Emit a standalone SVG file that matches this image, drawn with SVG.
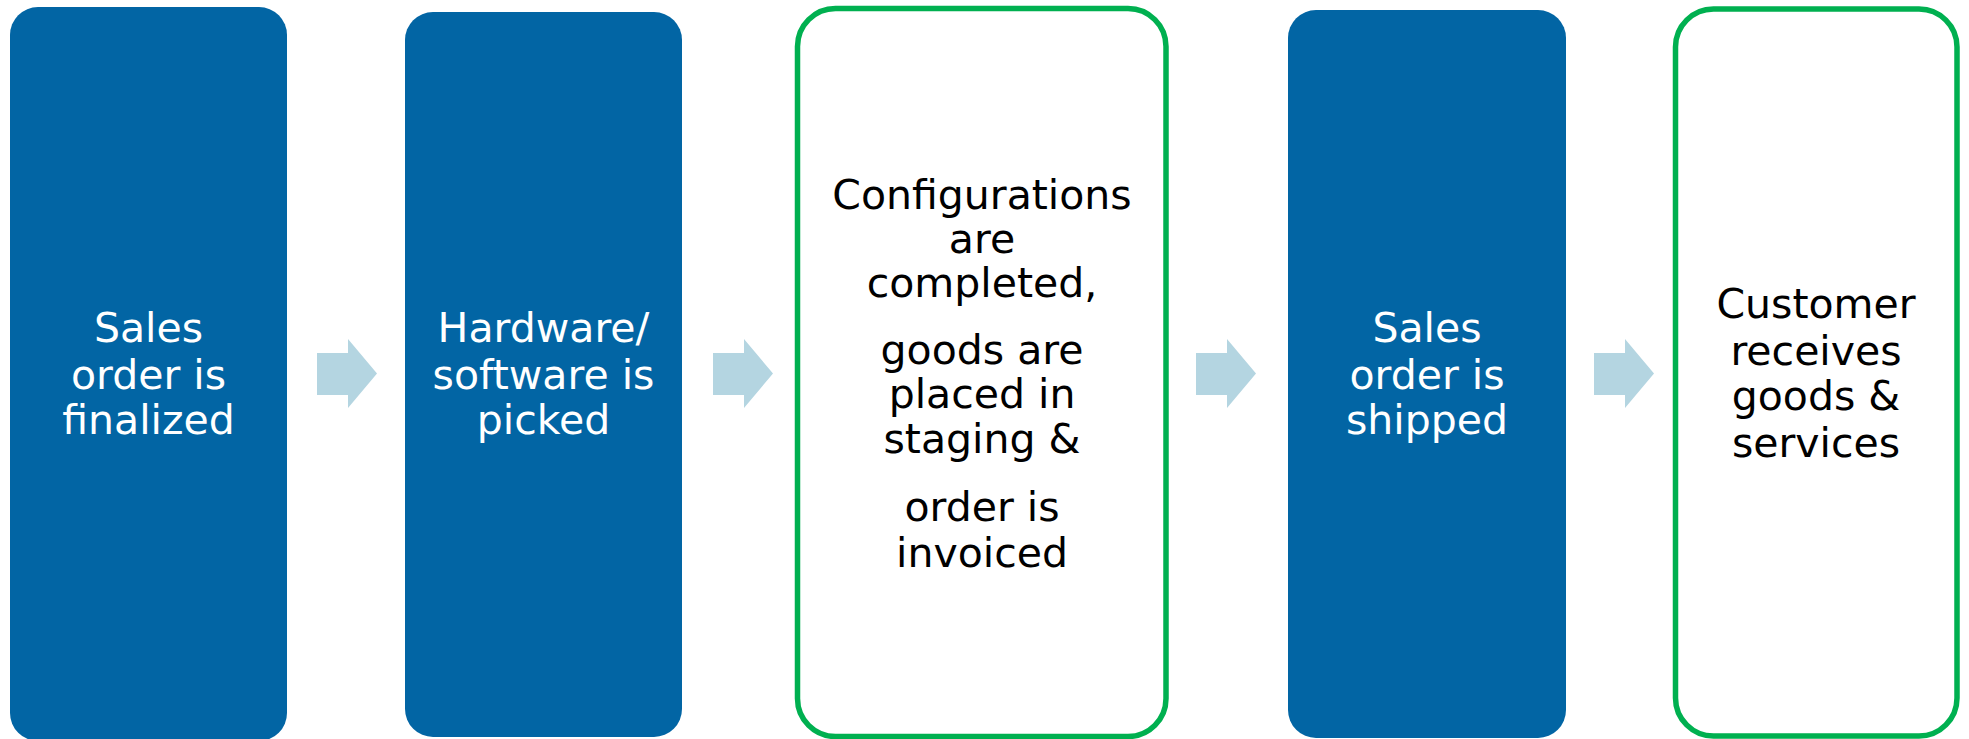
<svg xmlns="http://www.w3.org/2000/svg" width="1969" height="739" viewBox="0 0 1969 739">
<style>
.blue{fill:#0265A4}
.green{fill:#ffffff;stroke:#00B050;stroke-width:5.5}
.arrow{fill:#B4D5E1}
text{font-family:"DejaVu Sans","Verdana",sans-serif;font-size:41px;text-anchor:middle}
.w{fill:#ffffff}
.k{fill:#000000}
</style>
<rect width="1969" height="739" fill="#ffffff"/>
<g id="connectors">
<polygon class="arrow" points="317,353 348,353 348,339 377,373.5 348,408 348,395 317,395"/>
<polygon class="arrow" points="713,353 744,353 744,339 773,373.5 744,408 744,395 713,395"/>
<polygon class="arrow" points="1196,353 1227,353 1227,339 1256,373.5 1227,408 1227,395 1196,395"/>
<polygon class="arrow" points="1594,353 1625,353 1625,339 1654,373.5 1625,408 1625,395 1594,395"/>
</g>
<g id="node1">
<rect class="blue" x="10" y="7" width="277" height="734" rx="28"/>
<text class="w" x="148.5" y="342">Sales</text>
<text class="w" x="148.5" y="389">order is</text>
<text class="w" x="148.5" y="434">finalized</text>
</g>
<g id="node2">
<rect class="blue" x="405" y="12" width="277" height="725" rx="28"/>
<text class="w" x="543.5" y="342">Hardware/</text>
<text class="w" x="543.5" y="389">software is</text>
<text class="w" x="543.5" y="434">picked</text>
</g>
<g id="node3">
<rect class="green" x="797.5" y="8.5" width="368.5" height="728" rx="38"/>
<text class="k" x="982" y="209">Configurations</text>
<text class="k" x="982" y="253">are</text>
<text class="k" x="982" y="297">completed,</text>
<text class="k" x="982" y="364">goods are</text>
<text class="k" x="982" y="408">placed in</text>
<text class="k" x="982" y="453">staging &amp;</text>
<text class="k" x="982" y="521">order is</text>
<text class="k" x="982" y="567">invoiced</text>
</g>
<g id="node4">
<rect class="blue" x="1288" y="10" width="278" height="728" rx="28"/>
<text class="w" x="1427" y="342">Sales</text>
<text class="w" x="1427" y="389">order is</text>
<text class="w" x="1427" y="434">shipped</text>
</g>
<g id="node5">
<rect class="green" x="1675.5" y="9" width="281.5" height="727" rx="38"/>
<text class="k" x="1816" y="318">Customer</text>
<text class="k" x="1816" y="365">receives</text>
<text class="k" x="1816" y="410">goods &amp;</text>
<text class="k" x="1816" y="457">services</text>
</g>
</svg>
